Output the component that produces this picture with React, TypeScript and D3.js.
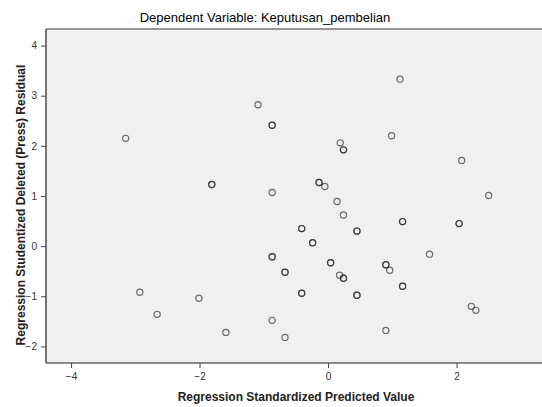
import { useEffect, useRef } from "react";
import * as d3 from "d3";

const width = 542;
const height = 407;
const marginTop = 29;
const marginBottom = 44;
const marginLeft = 46;

// predicted value (x) and studentized deleted residual (y), one entry per case
const predicted = [
  -3.15, -1.09, -0.87, -0.87, -1.81, -1.81, -0.87, 1.12, 0.19, 0.24, 0.24, 0.99, 2.08, 2.5,
  -0.14, -0.14, -0.05, 0.14, 0.24, -0.41, -0.41, 0.45, 0.45, 1.16, 1.16, 2.04, 2.04,
  -0.24, -0.24, -0.87, -0.87, 0.04, 0.04, -0.67, -0.67, 0.9, 0.9, 0.96, 0.18, 0.24, 0.24,
  1.58, -0.41, -0.41, 0.45, 0.45, 1.16, 1.16, 2.23, 2.3, -2.93, -2.66, -2.01, -1.59,
  -0.87, -0.67, 0.9,
];
const residual = [
  2.15, 2.82, 2.41, 2.41, 1.23, 1.23, 1.07, 3.33, 2.06, 1.92, 1.92, 2.2, 1.71, 1.01,
  1.27, 1.27, 1.19, 0.89, 0.62, 0.35, 0.35, 0.3, 0.3, 0.49, 0.49, 0.45, 0.45,
  0.07, 0.07, -0.21, -0.21, -0.33, -0.33, -0.52, -0.52, -0.37, -0.37, -0.48, -0.58, -0.64, -0.64,
  -0.16, -0.94, -0.94, -0.98, -0.98, -0.8, -0.8, -1.2, -1.28, -0.92, -1.36, -1.04, -1.72,
  -1.48, -1.82, -1.68,
];

const xTicks = [-4, -2, 0, 2];
const yTicks = [-2, -1, 0, 1, 2, 3, 4];

const font = "'Liberation Sans', Arial, sans-serif";

const App = () => {
  const xAxisRef = useRef<SVGGElement>(null);
  const yAxisRef = useRef<SVGGElement>(null);

  const xScale = d3.scaleLinear().domain([-4.39, 3.33]).range([marginLeft, width]);
  const yScale = d3
    .scaleLinear()
    .domain([-2.33, 4.33])
    .range([height - marginBottom, marginTop]);

  const points = predicted.map((x, i) => ({ x, y: residual[i] }));

  useEffect(() => {
    const xAxis = d3
      .axisBottom(xScale)
      .tickValues(xTicks)
      .tickFormat(d3.format("d"))
      .tickSize(5)
      .tickSizeOuter(0);
    const yAxis = d3
      .axisLeft(yScale)
      .tickValues(yTicks)
      .tickFormat(d3.format("d"))
      .tickSize(5)
      .tickSizeOuter(0);
    const gx = d3.select(xAxisRef.current).call(xAxis);
    const gy = d3.select(yAxisRef.current).call(yAxis);
    [gx, gy].forEach((g) => {
      g.select(".domain").remove();
      g.selectAll("line").attr("stroke", "#444");
      g.selectAll("text")
        .attr("font-size", "10px")
        .attr("font-family", font)
        .attr("fill", "#333");
    });
    gx.selectAll("text").attr("dy", "0.9em");
    gy.selectAll("text").attr("dx", "-1px");
  }, []);

  const bottom = height - marginBottom;

  return (
    <svg
      width={width}
      height={height}
      style={{ position: "absolute", left: 0, top: 0, background: "#fff" }}
    >
      <rect
        x={marginLeft}
        y={marginTop}
        width={width - marginLeft + 2}
        height={bottom - marginTop}
        fill="#f0f0f0"
      />
      {/* frame */}
      <line x1={marginLeft} x2={width} y1={marginTop} y2={marginTop} stroke="#777" strokeWidth={1.6} />
      <line x1={marginLeft} x2={width} y1={bottom} y2={bottom} stroke="#666" strokeWidth={1.6} />
      <line x1={marginLeft} x2={marginLeft} y1={marginTop} y2={bottom} stroke="#555" strokeWidth={1.6} />

      <g className="points">
        {points.map((d, i) => (
          <circle
            key={i}
            cx={xScale(d.x)}
            cy={yScale(d.y)}
            r={3.1}
            fill="none"
            stroke="#222"
            strokeOpacity={0.65}
            strokeWidth={1.2}
          />
        ))}
      </g>

      <g ref={xAxisRef} transform={`translate(0,${bottom})`} />
      <g ref={yAxisRef} transform={`translate(${marginLeft},0)`} />

      <text
        x={265}
        y={22}
        textAnchor="middle"
        fontFamily={font}
        fontSize={13}
        fill="#000"
      >
        Dependent Variable: Keputusan_pembelian
      </text>
      <text
        x={296}
        y={401}
        textAnchor="middle"
        fontFamily={font}
        fontSize={12}
        fontWeight="bold"
        fill="#222"
      >
        Regression Standardized Predicted Value
      </text>
      <text
        transform={`translate(25,205) rotate(-90)`}
        textAnchor="middle"
        fontFamily={font}
        fontSize={12}
        fontWeight="bold"
        fill="#222"
      >
        Regression Studentized Deleted (Press) Residual
      </text>
    </svg>
  );
};

export default App;
